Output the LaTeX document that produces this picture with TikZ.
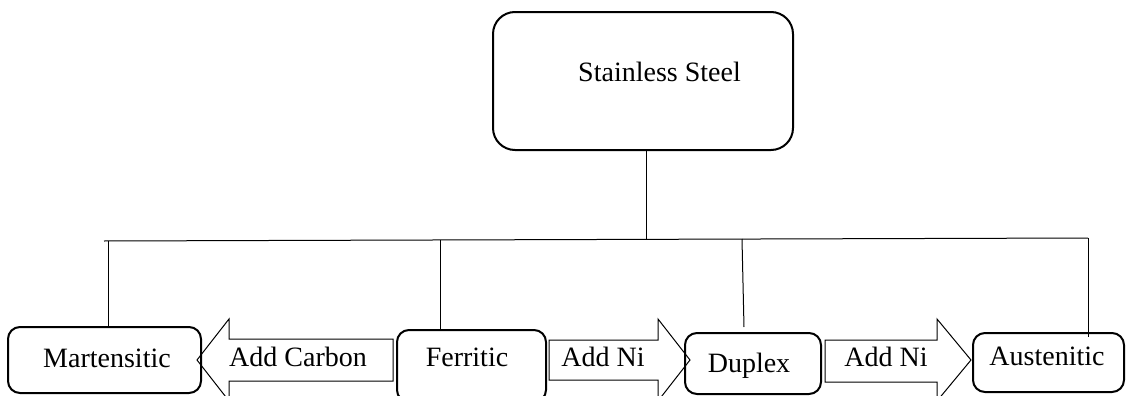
\documentclass[tikz,border=0pt]{standalone}
\usepackage{fontspec}
\setmainfont{Liberation Serif}
\begin{document}
\begin{tikzpicture}[x=0.5pt,y=-0.5pt,
  box/.style={draw, line width=1pt, rounded corners=6pt, inner sep=0pt},
  bigbox/.style={box, rounded corners=11pt},
  lbl/.style={font=\fontsize{14}{16}\selectfont, inner sep=0pt, anchor=base},
  thin/.style={line width=0.5pt},
  blockarrow/.style={draw, line width=0.5pt, line join=miter}]
\useasboundingbox (0,0) rectangle (1126,396);
\clip (0,0) rectangle (1126,396);
% boxes
\node[bigbox, minimum width=150pt, minimum height=69pt] (top) at (643,81) {};
\node[box, minimum width=96.5pt, minimum height=33pt] (mart) at (104.5,360) {};
\node[box, minimum width=74.5pt, minimum height=36pt] (ferr) at (471.5,366) {};
\node[box, minimum width=68pt, minimum height=30.5pt] (dup) at (753,363.5) {};
\node[box, minimum width=75.5pt, minimum height=29.5pt] (aus) at (1048.5,362.5) {};
% labels
\node[lbl] (tl) at (659.5,81) {Stainless Steel};
\node[lbl] (ml) at (107,367) {Martensitic};
\node[lbl] (fl) at (467,366) {Ferritic};
\node[lbl] (dl) at (749,372) {Duplex};
\node[lbl] (al) at (1047,365) {Austenitic};
\node[lbl] (ac) at (298,366) {Add Carbon};
\node[lbl] (an1) at (603,366) {Add Ni};
\node[lbl] (an2) at (886,366) {Add Ni};
% block arrows
\draw[blockarrow] (197,360) -- (229,319) -- (229,339) -- (393,339) -- (393,381) -- (229,381) -- (229,401) -- cycle;
\draw[blockarrow] (549,340) -- (658,340) -- (658,319) -- (690,360) -- (658,401) -- (658,380) -- (549,380) -- cycle;
\draw[blockarrow] (825,340) -- (937,340) -- (937,319) -- (971,360) -- (937,401) -- (937,382) -- (825,382) -- cycle;
% tree connectors
\coordinate (busL) at (104,241);
\coordinate (busR) at (1088,238);
\coordinate (trunk) at (646,240);
\draw[thin] (busL) -- (busR);
\draw[thin] (top.south -| trunk) -- (trunk);
\coordinate (mT) at (108,241);
\coordinate (fT) at (440,240);
\coordinate (dT) at (742,239);
\coordinate (aT) at (1088.5,238);
\draw[thin] (mT) -- (mT |- mart.north);
\draw[thin] (fT) -- (fT |- ferr.north);
\draw[thin] (dT) -- (744,327);
\draw[thin] (aT) -- (1088.5,337);
\end{tikzpicture}
\end{document}
